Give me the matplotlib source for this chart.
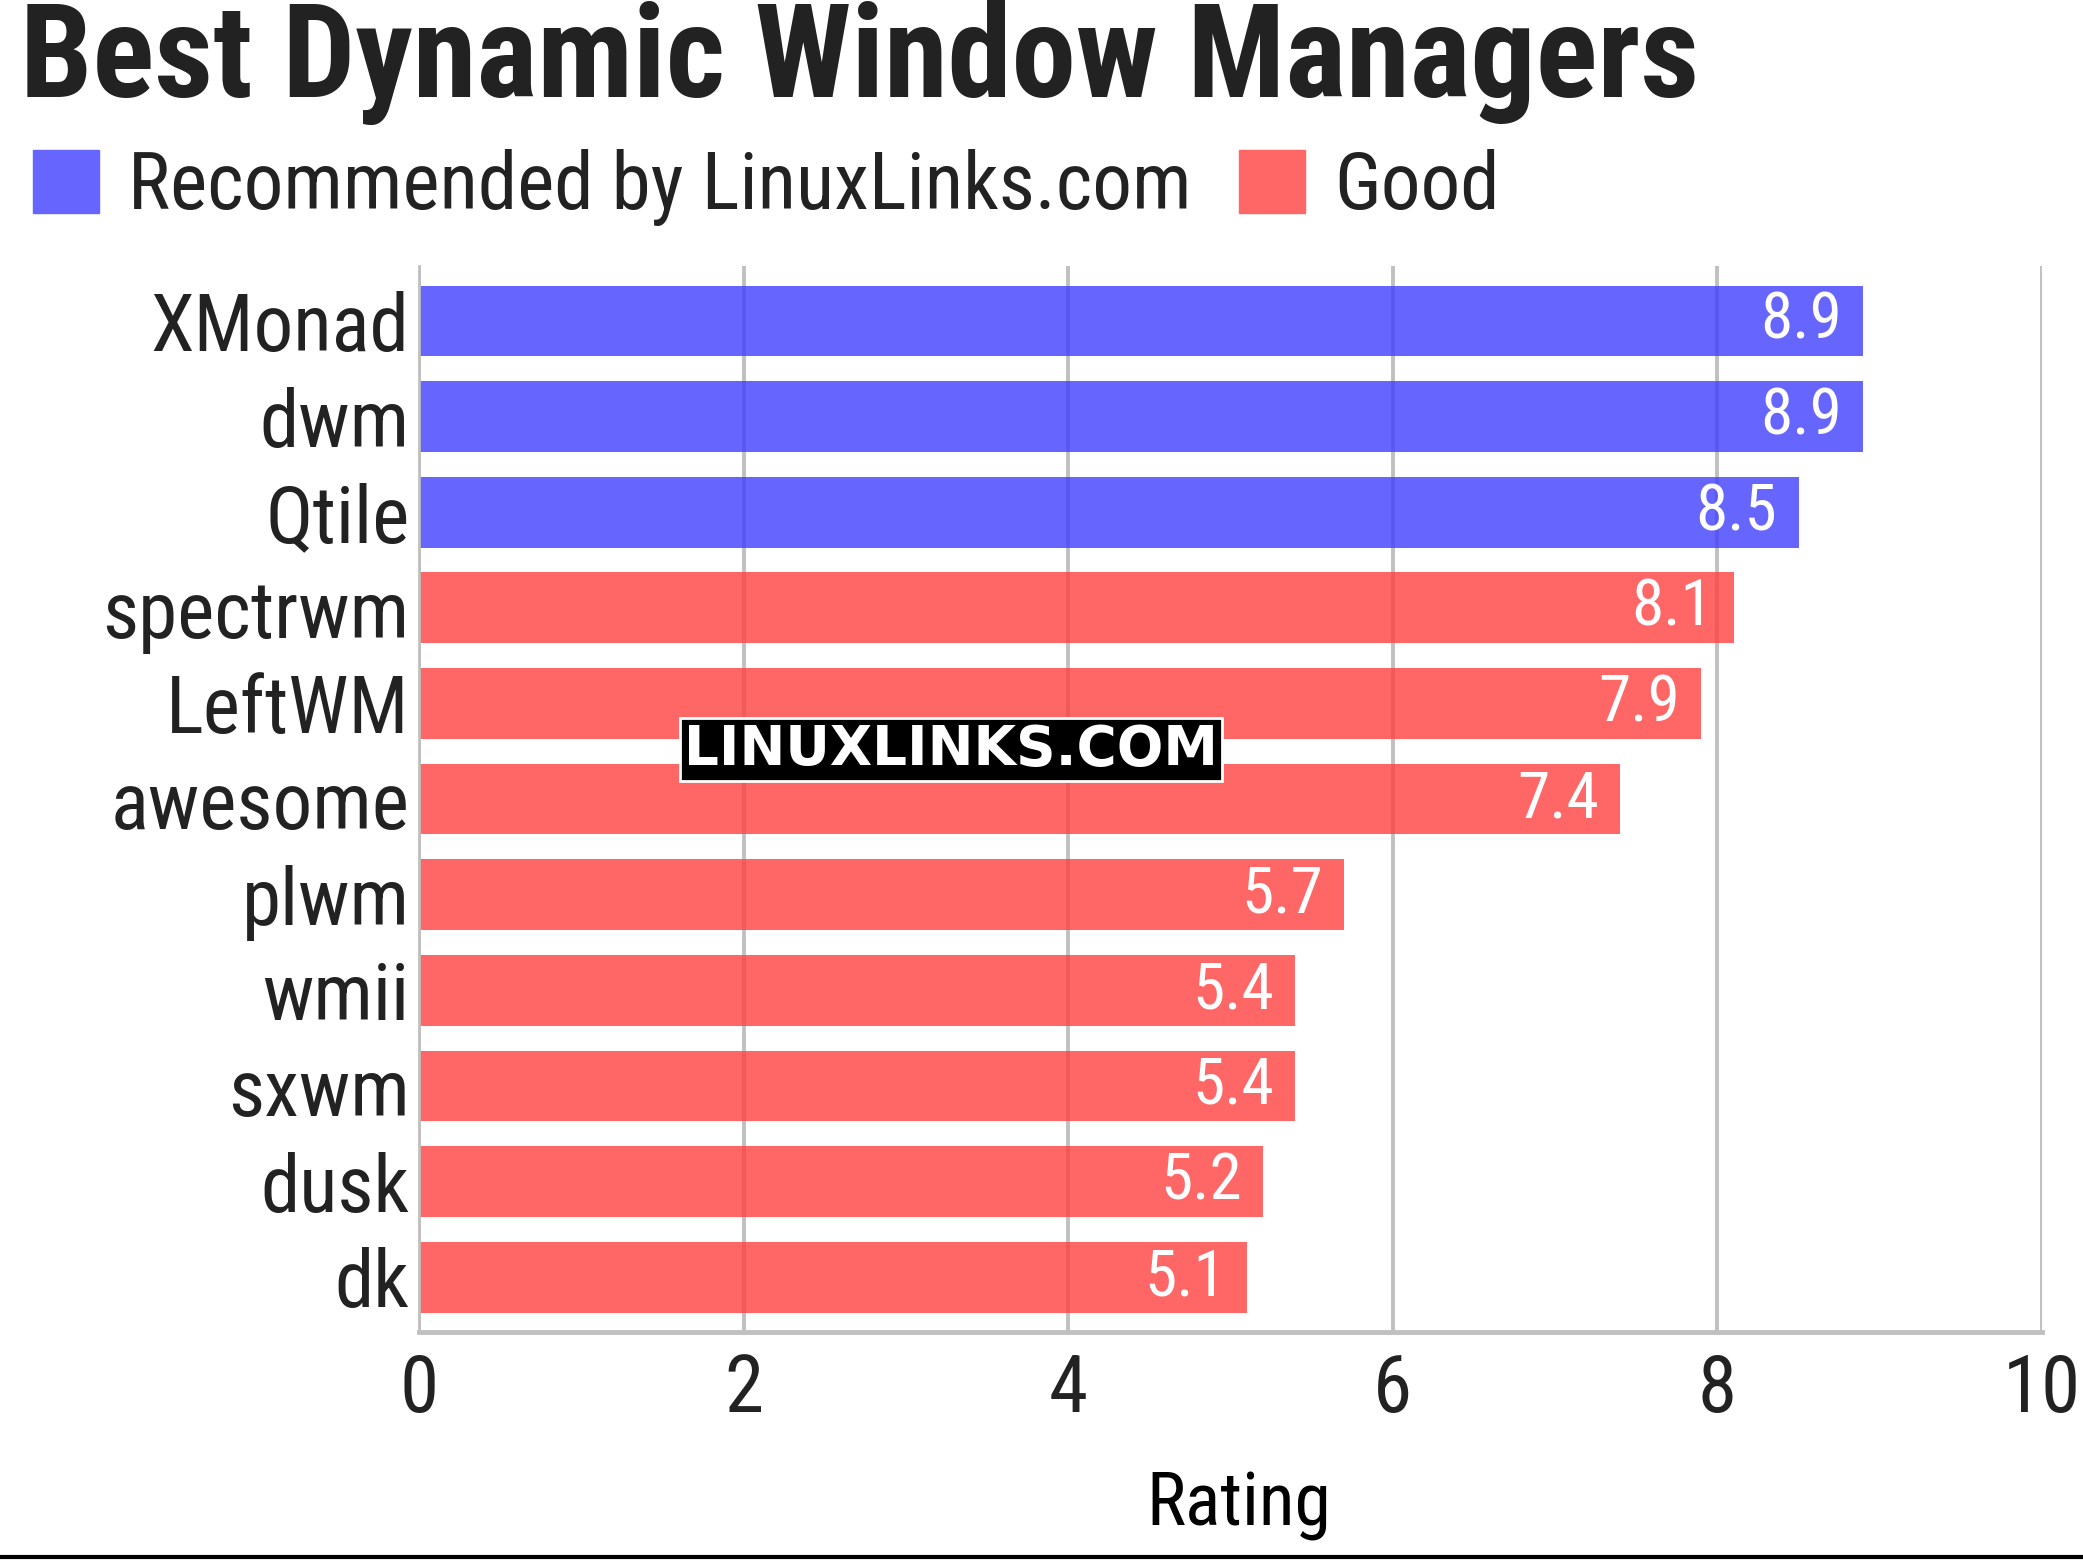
import matplotlib
matplotlib.use("Agg")
import matplotlib.pyplot as plt
from matplotlib.patches import Patch

plt.rcParams['font.family'] = ['Roboto Condensed', 'Roboto', 'DejaVu Sans']

names = ["XMonad", "dwm", "Qtile", "spectrwm", "LeftWM", "awesome",
         "plwm", "wmii", "sxwm", "dusk", "dk"]
ratings = [8.9, 8.9, 8.5, 8.1, 7.9, 7.4, 5.7, 5.4, 5.4, 5.2, 5.1]
groups = ["rec", "rec", "rec", "good", "good", "good", "good", "good", "good", "good", "good"]

# bar fills are slightly see-through so the grid shows through them
bar_colors = {"rec": "#4040ff", "good": "#ff4040"}
legend_colors = {"rec": "#6666ff", "good": "#ff6666"}
legend_labels = {"rec": "Recommended by LinuxLinks.com", "good": "Good"}
txt = "#222222"

fig = plt.figure(figsize=(20.83, 15.62), dpi=100)
ax = fig.add_axes([0.2012, 0.1472, 0.7791, 0.6825])

ypos = list(range(len(names)))
ax.barh(ypos, ratings, height=0.74, color=[bar_colors[g] for g in groups],
        alpha=0.8, zorder=2)

for y, v in zip(ypos, ratings):
    ax.text(v - 0.13, y, f"{v}", color="white", fontsize=47,
            ha="right", va="center", zorder=4)

ax.set_xlim(0, 10)
ax.set_ylim(len(names) - 0.426, -0.574)
ax.set_xticks([0, 2, 4, 6, 8, 10])
ax.set_yticks(ypos)
ax.set_yticklabels(names)
ax.tick_params(axis="both", length=0, labelsize=57, labelcolor=txt)
ax.tick_params(axis="x", pad=14)
ax.tick_params(axis="y", pad=7)

ax.grid(axis="x", color="#c0c0c0", linewidth=2.8, zorder=1)
ax.set_axisbelow(True)
for s in ["top", "right"]:
    ax.spines[s].set_visible(False)
ax.spines["left"].set_color("#c0c0c0")
ax.spines["left"].set_linewidth(2)
ax.spines["bottom"].set_color("#c0c0c0")
ax.spines["bottom"].set_linewidth(3.5)
ax.spines["bottom"].set_zorder(5)

ax.set_xlabel("Rating", fontsize=53, color="black", va="center")
ax.xaxis.set_label_coords(0.505, -0.162)

fig.text(0.0096, 0.9379, "Best Dynamic Window Managers", fontsize=93,
         fontweight="bold", color=txt, ha="left", va="baseline")

handles = [Patch(color=legend_colors[k], label=legend_labels[k]) for k in ["rec", "good"]]
fig.legend(handles=handles, loc="center left", bbox_to_anchor=(0.0159, 0.880),
           ncol=2, frameon=False, fontsize=57, handlelength=0.83, handleheight=0.83,
           handletextpad=0.37, columnspacing=0.6, labelcolor=txt,
           borderpad=0, borderaxespad=0)

# watermark
fig.text(0.4566, 0.52, "LINUXLINKS.COM", fontsize=39.5, fontweight="bold",
         family="DejaVu Sans", color="white", ha="center", va="center", zorder=10,
         bbox=dict(facecolor="black", edgecolor="white", pad=3, linewidth=2))

# bottom rule
fig.add_artist(plt.Line2D([0, 1], [0.0035, 0.0035], color="black", linewidth=3))

fig.savefig("out.png", dpi=100)
